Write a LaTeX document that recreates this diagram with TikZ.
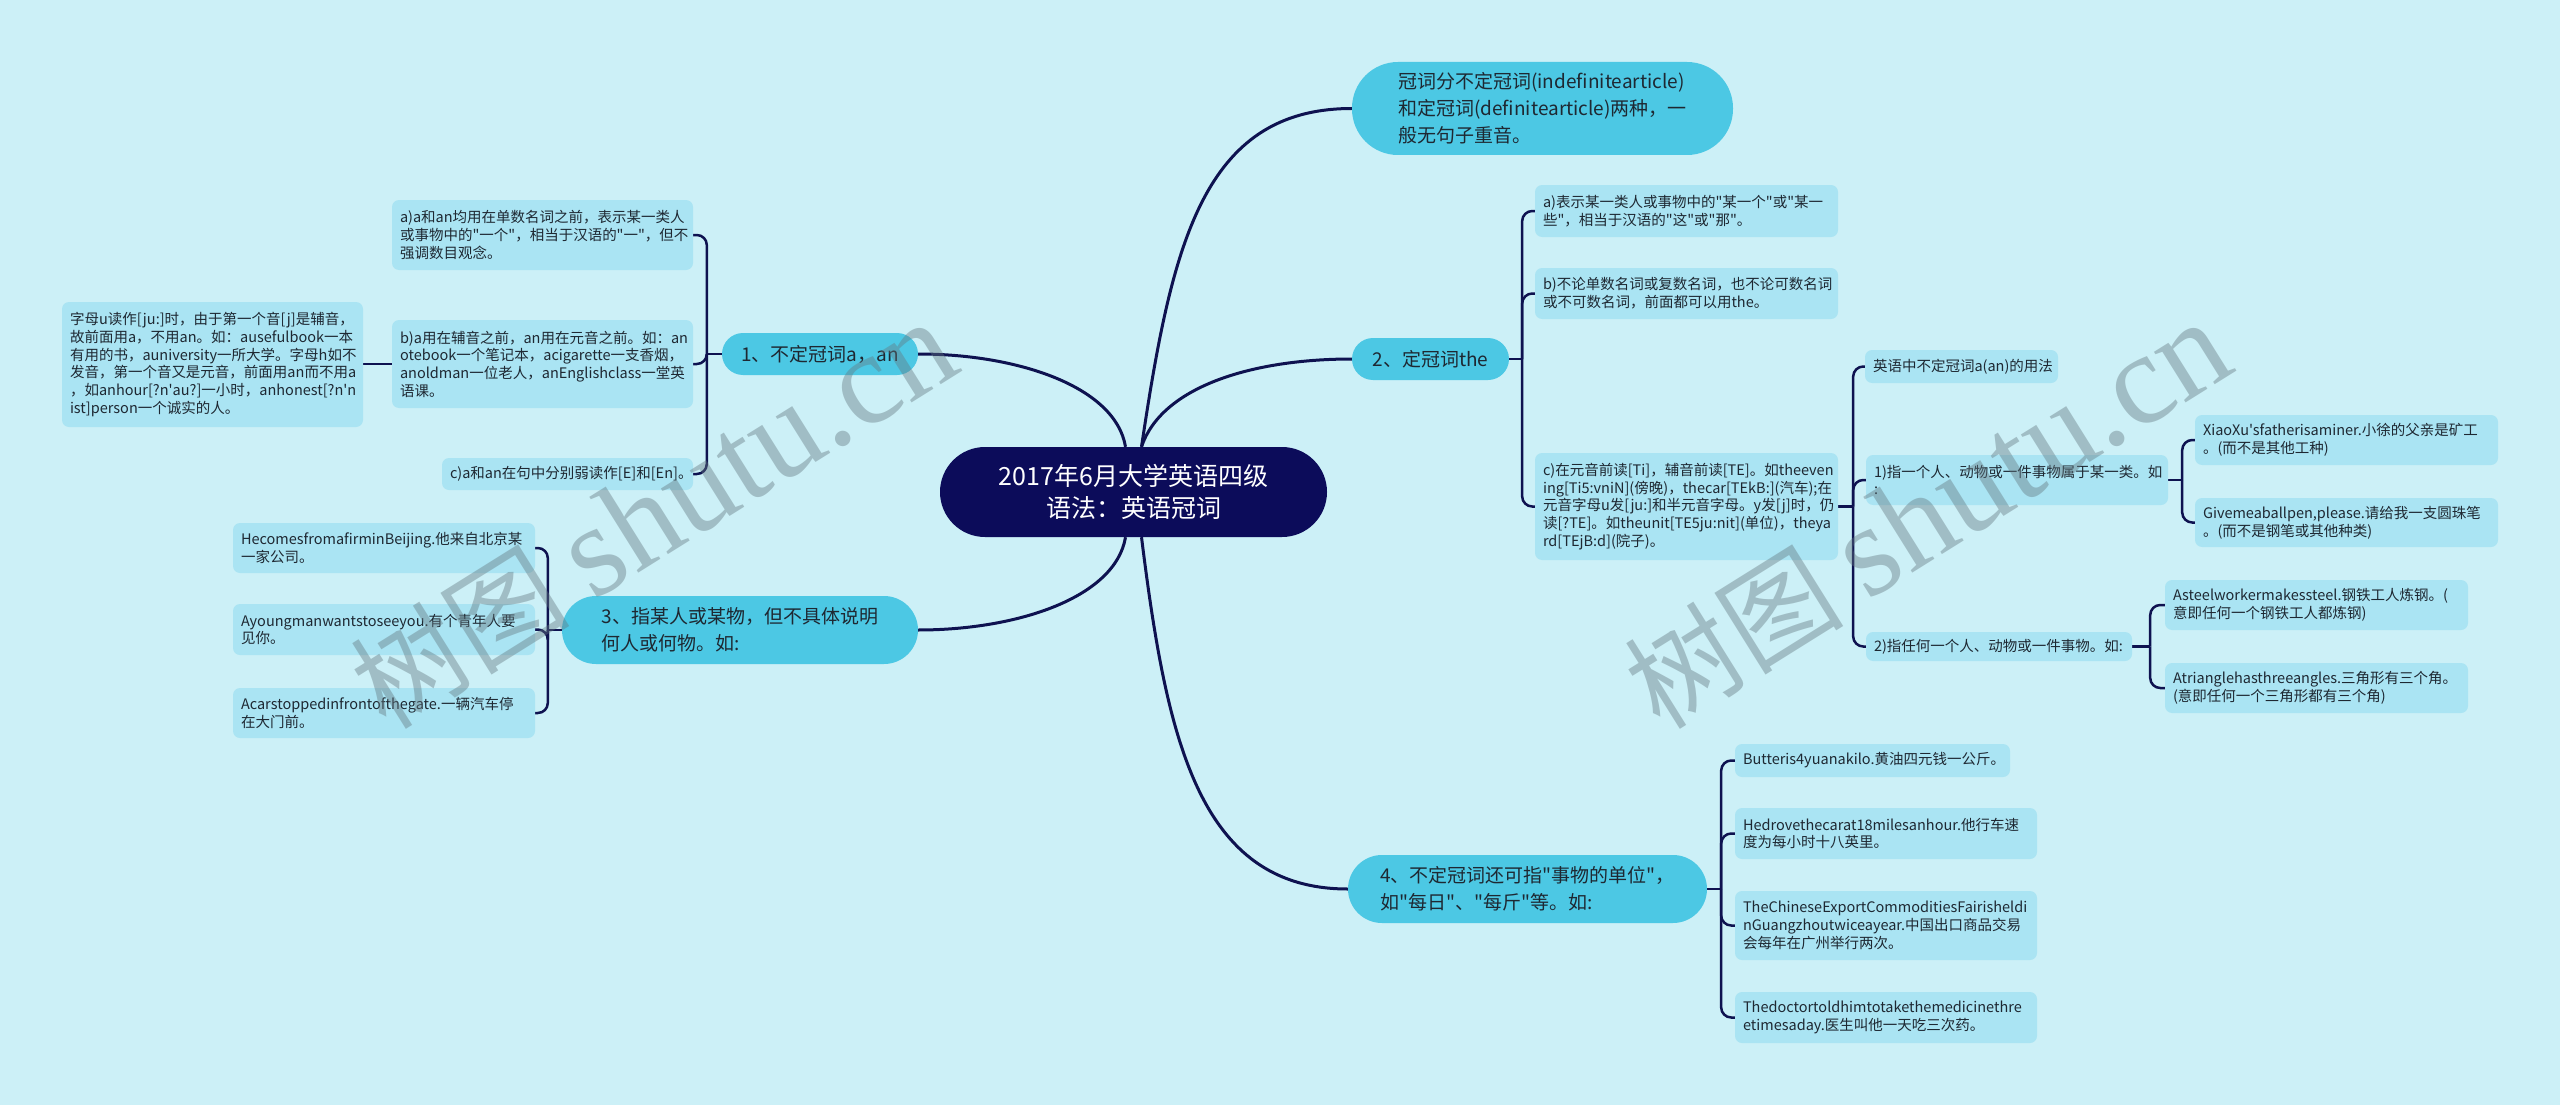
\documentclass[tikz,border=0pt]{standalone}
\usepackage{fontspec}
\setmainfont{Noto Sans CJK SC}[Ligatures=TeXOff]
\newfontfamily\wmserif{Liberation Serif}
\usetikzlibrary{calc}
\definecolor{bgc}{RGB}{204,240,247}
\definecolor{navy}{RGB}{12,12,90}
\definecolor{linec}{RGB}{14,18,80}
\definecolor{brc}{RGB}{76,200,228}
\definecolor{leafc}{RGB}{170,228,243}
\definecolor{txt}{RGB}{30,40,50}
\definecolor{wmc}{RGB}{100,120,128}
\pgfdeclarelayer{bgl}
\pgfdeclarelayer{back}
\pgfsetlayers{bgl,back,main}
\begin{document}
\begin{tikzpicture}[x=1pt,y=-1pt,
 rootbox/.style={fill=navy, rounded corners=45pt, text=white, font=\fontsize{25}{32}\selectfont, align=center, inner sep=0pt},
 branch/.style={fill=brc, text=txt, font=\fontsize{19}{27}\selectfont, align=left, inner sep=0pt},
 leaf/.style={fill=leafc, rounded corners=7pt, text=txt, font=\fontsize{14.5}{17.7}\selectfont, align=left, inner xsep=8pt, inner ysep=0pt},
 conn/.style={draw=linec, line width=2.5pt, rounded corners=10pt},
 rootconn/.style={draw=linec, line width=3pt},
 wmark/.style={text=wmc, text opacity=0.42, rotate=32, font=\fontsize{110}{115}\selectfont},
]
\begin{pgfonlayer}{bgl}
\fill[bgc] (0,0) rectangle (2560,1105);
\end{pgfonlayer}
\useasboundingbox (0,0) rectangle (2560,1105);

% root and main branches
\node[rootbox, minimum width=387pt, minimum height=90pt] (root) at (1133.5,492) {2017年6月大学英语四级\\语法：英语冠词};
\node[branch, rounded corners=46pt, minimum width=381pt, minimum height=93pt] (T0) at (1542.5,108.5) {冠词分不定冠词(indefinitearticle)\\和定冠词(definitearticle)两种，一\\般无句子重音。};
\node[branch, rounded corners=21pt, minimum width=196pt, minimum height=42pt] (B1) at (820,354) {1、不定冠词a，an};
\node[branch, rounded corners=21pt, minimum width=157pt, minimum height=42pt] (B2) at (1430.5,359) {2、定冠词the};
\node[branch, rounded corners=34pt, minimum width=356pt, minimum height=68pt] (B3) at (740,630) {3、指某人或某物，但不具体说明\\何人或何物。如:};
\node[branch, rounded corners=34pt, minimum width=359pt, minimum height=68pt] (B4) at (1527.5,889) {4、不定冠词还可指"事物的单位"，\\如"每日"、"每斤"等。如:};

% branch 1 leaves
\node[leaf, minimum height=70pt, text width=285pt] (L1a) at (542.5,235) {a)a和an均用在单数名词之前，表示某一类人\\或事物中的"一个"，相当于汉语的"一"，但不\\强调数目观念。};
\node[leaf, minimum height=88pt, text width=285pt] (L1b) at (542.5,364) {b)a用在辅音之前，an用在元音之前。如：an\\otebook一个笔记本，acigarette一支香烟，\\anoldman一位老人，anEnglishclass一堂英\\语课。};
\node[leaf, minimum height=32pt, text width=235pt] (L1c) at (567.5,474) {c)a和an在句中分别弱读作[E]和[En]。};
\node[leaf, minimum height=125pt, text width=285pt] (L1b1) at (212.5,364.5) {字母u读作[ju:]时，由于第一个音[j]是辅音，\\故前面用a，不用an。如：ausefulbook一本\\有用的书，auniversity一所大学。字母h如不\\发音，第一个音又是元音，前面用an而不用a\\，如anhour[?n'au?]一小时，anhonest[?n'n\\ist]person一个诚实的人。};

% branch 2 leaves
\node[leaf, minimum height=52pt, text width=287pt] (L2a) at (1686.5,211) {a)表示某一类人或事物中的"某一个"或"某一\\些"，相当于汉语的"这"或"那"。};
\node[leaf, minimum height=51pt, text width=287pt] (L2b) at (1686.5,293.5) {b)不论单数名词或复数名词，也不论可数名词\\或不可数名词，前面都可以用the。};
\node[leaf, minimum height=107pt, text width=287pt] (L2c) at (1686.5,506.5) {c)在元音前读[Ti]，辅音前读[TE]。如theeven\\ing[Ti5:vniN](傍晚)，thecar[TEkB:](汽车);在\\元音字母u发[ju:]和半元音字母。y发[j]时，仍\\读[?TE]。如theunit[TE5ju:nit](单位)，theya\\rd[TEjB:d](院子)。};
\node[leaf, minimum height=33pt, text width=177pt] (C1) at (1961.5,366.5) {英语中不定冠词a(an)的用法};
\node[leaf, minimum height=50pt, text width=286pt] (C2) at (2017,480) {1)指一个人、动物或一件事物属于某一类。如\\:};
\node[leaf, minimum height=29pt, text width=250pt] (C3) at (1999,646.5) {2)指任何一个人、动物或一件事物。如:};
\node[leaf, minimum height=50pt, text width=287pt] (D1) at (2346.5,440) {XiaoXu'sfatherisaminer.小徐的父亲是矿工\\。(而不是其他工种)};
\node[leaf, minimum height=49pt, text width=287pt] (D2) at (2346.5,522.5) {Givemeaballpen,please.请给我一支圆珠笔\\。(而不是钢笔或其他种类)};
\node[leaf, minimum height=50pt, text width=287pt] (E1) at (2316.5,605) {Asteelworkermakessteel.钢铁工人炼钢。(\\意即任何一个钢铁工人都炼钢)};
\node[leaf, minimum height=50pt, text width=287pt] (E2) at (2316.5,688) {Atrianglehasthreeangles.三角形有三个角。\\(意即任何一个三角形都有三个角)};

% branch 3 leaves
\node[leaf, minimum height=50pt, text width=286pt] (F1) at (384,548) {HecomesfromafirminBeijing.他来自北京某\\一家公司。};
\node[leaf, minimum height=51pt, text width=286pt] (F2) at (384,629.5) {Ayoungmanwantstoseeyou.有个青年人要\\见你。};
\node[leaf, minimum height=50pt, text width=286pt] (F3) at (384,713) {Acarstoppedinfrontofthegate.一辆汽车停\\在大门前。};

% branch 4 leaves
\node[leaf, minimum height=33pt, text width=259pt] (G1) at (1872.5,760.5) {Butteris4yuanakilo.黄油四元钱一公斤。};
\node[leaf, minimum height=51pt, text width=286pt] (G2) at (1886,833.5) {Hedrovethecarat18milesanhour.他行车速\\度为每小时十八英里。};
\node[leaf, minimum height=69pt, text width=286pt] (G3) at (1886,925.5) {TheChineseExportCommoditiesFairisheldi\\nGuangzhoutwiceayear.中国出口商品交易\\会每年在广州举行两次。};
\node[leaf, minimum height=51pt, text width=286pt] (G4) at (1886,1017.5) {Thedoctortoldhimtotakethemedicinethre\\etimesaday.医生叫他一天吃三次药。};

% junctions
\coordinate (j1) at ([xshift=-15pt]B1.west);
\coordinate (j2) at ([xshift=13pt]B2.east);
\coordinate (j2c) at ([xshift=15pt]L2c.east);
\coordinate (jc2) at ([xshift=14pt]C2.east);
\coordinate (jc3) at ([xshift=18pt]C3.east);
\coordinate (j3) at ([xshift=-14pt]B3.west);
\coordinate (j4) at ([xshift=14pt]B4.east);

\begin{pgfonlayer}{back}
% root connectors
\draw[rootconn] ([xshift=8pt]root.north) .. controls +(30,-200) and +(-150,0) .. (T0.west);
\draw[rootconn] ([xshift=8pt]root.north) .. controls +(20,-60) and +(-100,0) .. (B2.west);
\draw[rootconn] ([xshift=-8pt]root.north) .. controls +(-10,-60) and +(100,0) .. (B1.east);
\draw[rootconn] ([xshift=-8pt]root.south) .. controls +(-10,60) and +(100,0) .. (B3.east);
\draw[rootconn] ([xshift=8pt]root.south) .. controls +(25,200) and +(-150,0) .. (B4.west);

% branch 1
\draw[conn] (B1.west) -- (j1);
\draw[conn] (j1) |- (L1a.east);
\draw[conn] (j1) |- (L1b.east);
\draw[conn] (j1) |- (L1c.east);
\draw[conn] (L1b.west) -- (L1b.west -| L1b1.east);

% branch 2
\draw[conn] (B2.east) -- (j2);
\draw[conn] (j2) |- (L2a.west);
\draw[conn] (j2) |- (L2b.west);
\draw[conn] (j2) |- (L2c.west);
\draw[conn] (L2c.east) -- (j2c);
\draw[conn] (j2c) |- (C1.west);
\draw[conn] (j2c) |- (C2.west);
\draw[conn] (j2c) |- (C3.west);
\draw[conn] (C2.east) -- (jc2);
\draw[conn] (jc2) |- (D1.west);
\draw[conn] (jc2) |- (D2.west);
\draw[conn] (C3.east) -- (jc3);
\draw[conn] (jc3) |- (E1.west);
\draw[conn] (jc3) |- (E2.west);

% branch 3
\draw[conn] (B3.west) -- (j3);
\draw[conn] (j3) |- (F1.east);
\draw[conn] (j3) |- (F2.east);
\draw[conn] (j3) |- (F3.east);

% branch 4
\draw[conn] (B4.east) -- (j4);
\draw[conn] (j4) |- (G1.west);
\draw[conn] (j4) |- (G2.west);
\draw[conn] (j4) |- (G3.west);
\draw[conn] (j4) |- (G4.west);
\end{pgfonlayer}

% watermarks
\node[wmark] (wm1) at (653,515) {树图 {\wmserif\fontsize{130}{130}\selectfont shutu.cn}};
\node[wmark] (wm2) at (1927,515) {树图 {\wmserif\fontsize{130}{130}\selectfont shutu.cn}};
\end{tikzpicture}
\end{document}
